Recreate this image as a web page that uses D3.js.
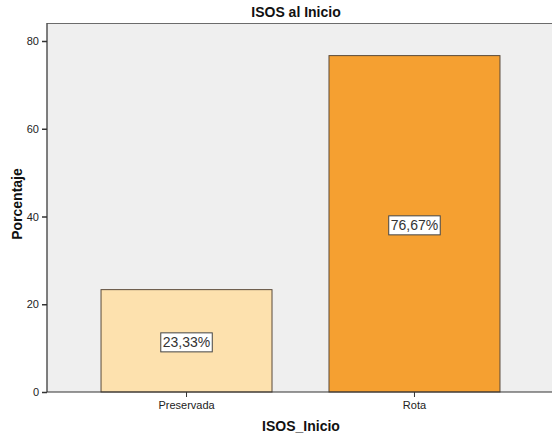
<!DOCTYPE html>
<html>
<head>
<meta charset="utf-8">
<script src="https://cdn.jsdelivr.net/npm/d3@7"></script>
<style>
  html, body { margin: 0; padding: 0; background: #fff; }
  svg { display: block; font-family: "Liberation Sans", Arial, sans-serif; }
</style>
</head>
<body>
<svg id="chart" width="552" height="438"></svg>
<script>
// ISOS al Inicio — percentage per category
const categories = ["Preservada", "Rota"];
const percentages = [23.33, 76.67];
const barColors = ["#FDE1AE", "#F5A031"];
const yTicks = [0, 20, 40, 60, 80];

const svg = d3.select("#chart");
const W = 552, H = 438;
const plot = { left: 47, top: 23, right: 554, bottom: 392 };

const x = d3.scaleBand()
  .domain(categories)
  .range([plot.left, plot.right])
  .paddingInner(0.25)
  .paddingOuter(0.237);

const y = d3.scaleLinear()
  .domain([0, 80])
  .range([plot.bottom, plot.bottom - 351]);

// plot background
svg.append("rect")
  .attr("x", plot.left).attr("y", plot.top)
  .attr("width", W - plot.left).attr("height", plot.bottom - plot.top)
  .attr("fill", "#EFEFEF");

// top frame line
svg.append("line")
  .attr("x1", plot.left).attr("x2", W)
  .attr("y1", plot.top + 0.5).attr("y2", plot.top + 0.5)
  .attr("stroke", "#6b6b6b").attr("stroke-width", 1.2);

// bars
svg.selectAll("rect.bar")
  .data(categories)
  .join("rect")
  .attr("class", "bar")
  .attr("x", d => x(d))
  .attr("y", (d, i) => y(percentages[i]))
  .attr("width", x.bandwidth())
  .attr("height", (d, i) => y(0) - y(percentages[i]))
  .attr("fill", (d, i) => barColors[i])
  .attr("stroke", "#5a4a3a")
  .attr("stroke-width", 1);

// y axis
const yAxis = svg.append("g")
  .attr("transform", `translate(${plot.left},0)`)
  .call(d3.axisLeft(y).tickValues(yTicks).tickSize(5).tickPadding(3).tickFormat(d3.format("d")));
yAxis.select(".domain").attr("stroke", "#555").attr("stroke-width", 1.5)
  .attr("d", `M0,${plot.bottom}V${plot.top}`);
yAxis.selectAll(".tick line").attr("stroke", "#333").attr("stroke-width", 1.5);
yAxis.selectAll(".tick text").attr("fill", "#222").style("font-size", "11px");

// x axis
const xAxis = svg.append("g")
  .attr("transform", `translate(0,${plot.bottom})`)
  .call(d3.axisBottom(x).tickSize(5).tickPadding(4));
xAxis.select(".domain").attr("stroke", "#333").attr("stroke-width", 1.2)
  .attr("d", `M${plot.left},0H${W}`);
xAxis.selectAll(".tick line").attr("stroke", "#333");
xAxis.selectAll(".tick text").attr("fill", "#222").style("font-size", "11px");

// value labels in boxes
const labels = svg.selectAll("g.vlabel")
  .data(categories)
  .join("g")
  .attr("class", "vlabel")
  .attr("transform", (d, i) =>
    `translate(${x(d) + x.bandwidth() / 2},${(y(percentages[i]) + y(0)) / 2 + 1.5})`);

labels.append("text")
  .attr("text-anchor", "middle")
  .attr("dy", "0.36em")
  .attr("fill", "#333")
  .style("font-size", "14px")
  .text((d, i) => d3.format(".2f")(percentages[i]).replace(".", ",") + "%");

labels.each(function () {
  const g = d3.select(this);
  const bb = g.select("text").node().getBBox();
  g.insert("rect", "text")
    .attr("x", bb.x - 2).attr("y", bb.y - 1.5)
    .attr("width", bb.width + 4).attr("height", bb.height + 3)
    .attr("fill", "#fff")
    .attr("stroke", "#444").attr("stroke-width", 1);
});

// titles
svg.append("text")
  .attr("x", 296).attr("y", 17)
  .attr("text-anchor", "middle")
  .style("font-size", "14px").style("font-weight", "bold")
  .attr("fill", "#111")
  .text("ISOS al Inicio");

svg.append("text")
  .attr("x", 301).attr("y", 431)
  .attr("text-anchor", "middle")
  .style("font-size", "14px").style("font-weight", "bold")
  .attr("fill", "#111")
  .text("ISOS_Inicio");

svg.append("text")
  .attr("transform", "translate(22,204) rotate(-90)")
  .attr("text-anchor", "middle")
  .style("font-size", "14px").style("font-weight", "bold")
  .attr("fill", "#111")
  .text("Porcentaje");
</script>
</body>
</html>
